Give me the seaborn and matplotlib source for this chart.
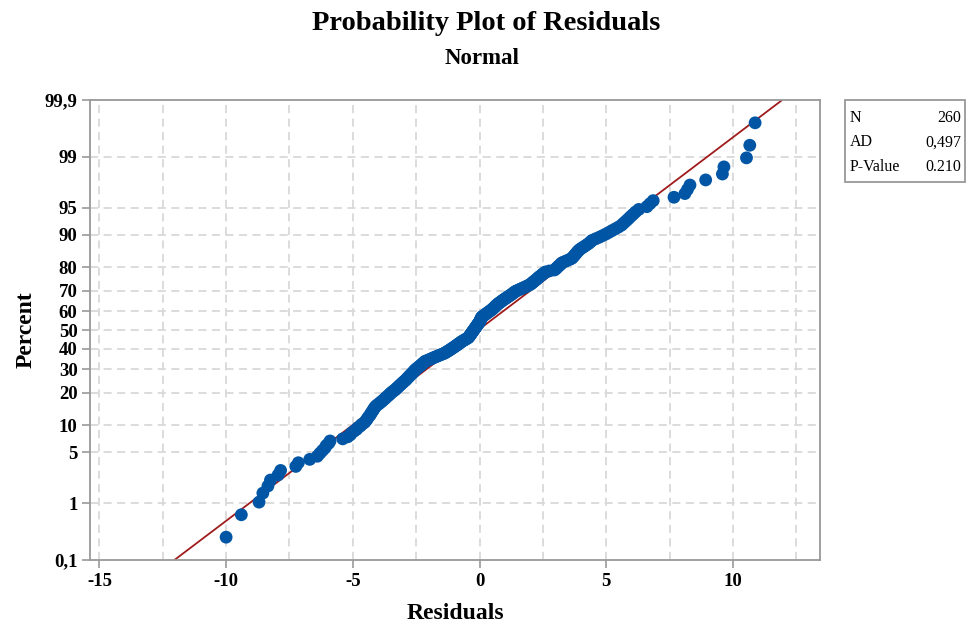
import matplotlib
matplotlib.use("Agg")
import matplotlib.pyplot as plt
import seaborn as sns
import pandas as pd
from statistics import NormalDist
from matplotlib.patches import Rectangle

# ---- data ----
residuals = [
    -10.0, -9.4, -8.7, -8.55, -8.35, -8.25, -7.95, -7.85, -7.25, -7.15,
    -6.7, -6.4, -6.3, -6.2, -6.1, -6.05, -5.95, -5.9, -5.4, -5.2,
    -5.1, -5.05, -4.95, -4.85, -4.8, -4.7, -4.65, -4.55, -4.5, -4.45,
    -4.42, -4.38, -4.33, -4.3, -4.27, -4.23, -4.2, -4.17, -4.14, -4.1,
    -4.05, -3.98, -3.93, -3.87, -3.82, -3.77, -3.72, -3.68, -3.63, -3.58,
    -3.54, -3.5, -3.45, -3.4, -3.34, -3.3, -3.26, -3.22, -3.18, -3.14,
    -3.1, -3.06, -3.02, -2.98, -2.94, -2.9, -2.87, -2.84, -2.8, -2.77,
    -2.74, -2.7, -2.67, -2.64, -2.61, -2.58, -2.55, -2.52, -2.48, -2.44,
    -2.4, -2.36, -2.32, -2.29, -2.25, -2.21, -2.18, -2.15, -2.08, -2.0,
    -1.93, -1.86, -1.8, -1.72, -1.65, -1.58, -1.5, -1.43, -1.36, -1.32,
    -1.27, -1.22, -1.18, -1.13, -1.09, -1.05, -1.0, -0.96, -0.92, -0.88,
    -0.84, -0.8, -0.76, -0.72, -0.68, -0.63, -0.58, -0.53, -0.48, -0.44,
    -0.42, -0.4, -0.38, -0.36, -0.34, -0.32, -0.3, -0.28, -0.26, -0.24,
    -0.22, -0.2, -0.18, -0.16, -0.14, -0.12, -0.1, -0.08, -0.06, -0.04,
    -0.02, 0.0, 0.02, 0.03, 0.04, 0.05, 0.06, 0.08, 0.1, 0.14,
    0.18, 0.22, 0.26, 0.3, 0.34, 0.38, 0.42, 0.46, 0.5, 0.53,
    0.56, 0.59, 0.62, 0.65, 0.68, 0.72, 0.75, 0.8, 0.84, 0.88,
    0.92, 0.97, 1.01, 1.06, 1.1, 1.15, 1.2, 1.24, 1.29, 1.33,
    1.37, 1.41, 1.48, 1.55, 1.62, 1.7, 1.77, 1.84, 1.91, 1.98,
    2.03, 2.07, 2.11, 2.15, 2.2, 2.24, 2.28, 2.32, 2.36, 2.41,
    2.46, 2.5, 2.55, 2.6, 2.75, 2.95, 3.0, 3.04, 3.08, 3.12,
    3.17, 3.21, 3.25, 3.35, 3.45, 3.55, 3.64, 3.68, 3.72, 3.76,
    3.8, 3.84, 3.88, 3.93, 4.0, 4.08, 4.16, 4.24, 4.32, 4.38,
    4.44, 4.58, 4.72, 4.85, 4.98, 5.1, 5.22, 5.35, 5.48, 5.6,
    5.68, 5.77, 5.86, 5.95, 6.05, 6.15, 6.28, 6.6, 6.72, 6.85,
    7.67, 8.1, 8.2, 8.3, 8.92, 9.58, 9.64, 10.53, 10.66, 10.87,
]
fit_mean = -0.05      # fitted normal line
fit_sd = 3.88
percent_ticks = [0.1, 1, 5, 10, 20, 30, 40, 50, 60, 70, 80, 90, 95, 99, 99.9]
percent_labels = ["0,1", "1", "5", "10", "20", "30", "40", "50", "60", "70",
                  "80", "90", "95", "99", "99,9"]
x_ticks = [-15, -10, -5, 0, 5, 10]
stats_names = ["N", "AD", "P-Value"]
stats_values = ["260", "0,497", "0.210"]

# ---- build plotting frame ----
nd = NormalDist()
n = len(residuals)
xs = sorted(residuals)
pos = [nd.inv_cdf((i + 1 - 0.3) / (n + 0.4)) for i in range(n)]
df = pd.DataFrame({"Residuals": xs, "z": pos})

zlo, zhi = nd.inv_cdf(0.001), nd.inv_cdf(0.999)
line_df = pd.DataFrame({"x": [fit_mean + fit_sd * zlo, fit_mean + fit_sd * zhi],
                        "z": [zlo, zhi]})

sns.set_theme(style="white")
plt.rcParams["font.family"] = ["Liberation Serif", "DejaVu Serif"]
plt.rcParams["text.color"] = "black"
plt.rcParams["axes.labelcolor"] = "black"
plt.rcParams["xtick.color"] = "black"
plt.rcParams["ytick.color"] = "black"

fig = plt.figure(figsize=(9.73, 6.28), dpi=100)
ax = fig.add_axes([90 / 973, 1 - 560 / 628, 730 / 973, 460 / 628])

grid_c = "#d9d9d9"
for v in [-15, -12.5, -10, -7.5, -5, -2.5, 0, 2.5, 5, 7.5, 10, 12.5]:
    ax.axvline(v, color=grid_c, lw=1.3, ls=(0, (4.5, 3)), zorder=0)
for p in percent_ticks[1:-1]:
    ax.axhline(nd.inv_cdf(p / 100), color=grid_c, lw=1.3, ls=(0, (4.5, 3)), zorder=0)

sns.lineplot(data=line_df, x="x", y="z", color="#a01c1c", lw=1.3, ax=ax, zorder=2)
sns.scatterplot(data=df, x="Residuals", y="z", color="#0055a5", s=85,
                edgecolor="none", linewidth=0, ax=ax, zorder=3)

ax.set_xlim(-15.37, 13.43)
ax.set_ylim(zlo, zhi)
ax.set_xticks(x_ticks)
ax.set_xticklabels([str(t) for t in x_ticks], fontweight="bold", fontsize=13.5)
ax.set_yticks([nd.inv_cdf(p / 100) for p in percent_ticks])
ax.set_yticklabels(percent_labels, fontweight="bold", fontsize=13.5)
ax.tick_params(axis="both", length=6, width=1.2, color="#999999", direction="out",
               bottom=True, left=True, pad=3, labelcolor="black")
for s in ax.spines.values():
    s.set_color("#999999")
    s.set_linewidth(1.3)
ax.set_xlabel("Residuals", fontweight="bold", fontsize=17, labelpad=10)
ax.set_ylabel("Percent", fontweight="bold", fontsize=17, labelpad=6)

fig.text(486 / 973, 1 - 24 / 628, "Probability Plot of Residuals", ha="center",
         va="center", fontweight="bold", fontsize=20.5)
fig.text(482 / 973, 1 - 59 / 628, "Normal", ha="center", va="center",
         fontweight="bold", fontsize=16.5)

# stats box
fig.patches.append(Rectangle((845 / 973, 1 - 182 / 628), 120 / 973, 82 / 628,
                             transform=fig.transFigure, fill=False,
                             edgecolor="#999999", lw=1.3))
for k, (nm, val) in enumerate(zip(stats_names, stats_values)):
    yy = 1 - (118 + k * 24.5) / 628
    fig.text(850 / 973, yy, nm, ha="left", va="center", fontsize=11.5)
    fig.text(961 / 973, yy, val, ha="right", va="center", fontsize=11.5)

fig.savefig("out.png", dpi=100)
